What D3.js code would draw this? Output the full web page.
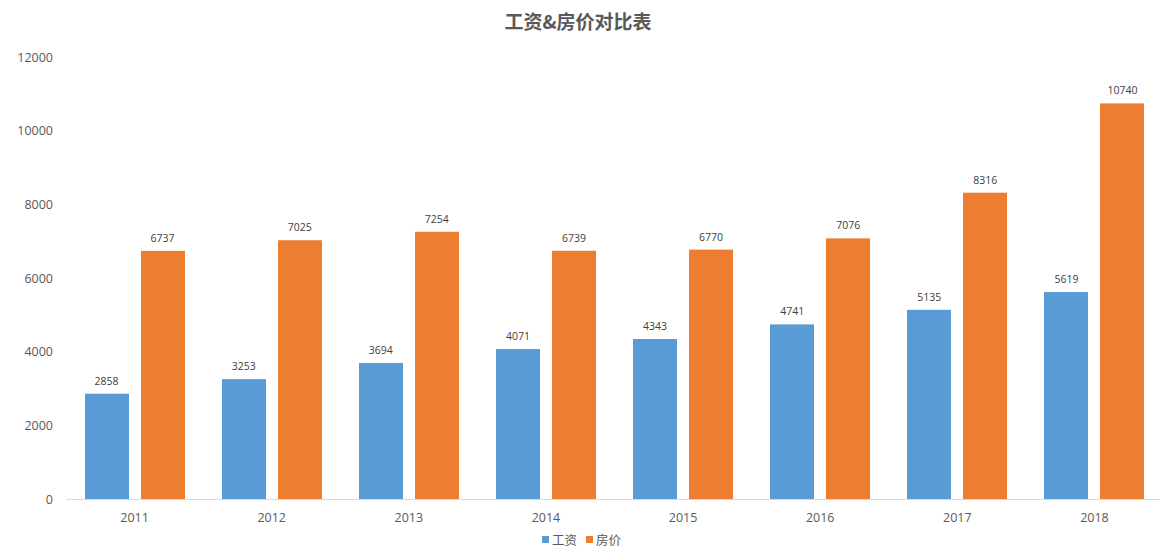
<!DOCTYPE html>
<html><head><meta charset="utf-8">
<script src="https://cdn.jsdelivr.net/npm/d3@7"></script>
<style>body{margin:0;background:#fff;font-family:"Open Sans","Noto Sans CJK SC",sans-serif;}</style>
</head><body><svg id="c" width="1160" height="558"></svg>
<script>
const years = ["2011","2012","2013","2014","2015","2016","2017","2018"];
const wages = [2858,3253,3694,4071,4343,4741,5135,5619];
const prices = [6737,7025,7254,6739,6770,7076,8316,10740];
const seriesNames = ["工资","房价"];
const colors = ["#5B9BD5","#ED7D31"];
const yTicks = [0,2000,4000,6000,8000,10000,12000];

const svg = d3.select("#c");
const x = d3.scaleBand().domain(years).range([66,1163]);
const y = d3.scaleLinear().domain([0,12000]).range([499,57]);
const barW = 44, gap = 12;

svg.append("text").attr("x",578).attr("y",29).attr("text-anchor","middle")
  .attr("font-family","Noto Sans CJK SC")
  .attr("font-size",19).attr("font-weight","bold").attr("fill","#595959").text("工资&房价对比表");

svg.append("g").selectAll("text").data(yTicks).join("text")
  .attr("x",53).attr("y",d=>y(d)+4.5).attr("text-anchor","end")
  .attr("font-size",12.5).attr("fill","#595959").text(d=>d);

svg.append("line").attr("x1",66).attr("x2",1160).attr("y1",499.5).attr("y2",499.5)
  .attr("stroke","#d9d9d9").attr("stroke-width",1);

svg.append("g").selectAll("text").data(years).join("text")
  .attr("x",d=>x(d)+x.bandwidth()/2).attr("y",522).attr("text-anchor","middle")
  .attr("font-size",12.5).attr("fill","#595959").text(d=>d);

[wages,prices].forEach((vals,si)=>{
  const off = si===0 ? -(gap/2+barW) : gap/2;
  const g = svg.append("g");
  g.selectAll("rect").data(vals).join("rect")
    .attr("x",(d,i)=>Math.round(x(years[i])+x.bandwidth()/2+off)).attr("width",barW)
    .attr("y",d=>y(d)).attr("height",d=>y(0)-y(d)).attr("fill",colors[si]);
  g.selectAll("text").data(vals).join("text")
    .attr("x",(d,i)=>x(years[i])+x.bandwidth()/2+off+barW/2).attr("y",d=>y(d)-9)
    .attr("text-anchor","middle").attr("font-size",10.5).attr("fill","#404040").text(d=>d);
});

const leg = svg.append("g").attr("font-family","Noto Sans CJK SC");
const lx = [542,586];
seriesNames.forEach((n,i)=>{
  leg.append("rect").attr("x",lx[i]).attr("y",536).attr("width",7).attr("height",7).attr("fill",colors[i]);
  leg.append("text").attr("x",lx[i]+10).attr("y",544.5).attr("font-size",12.5).attr("fill","#595959").text(n);
});
</script></body></html>
